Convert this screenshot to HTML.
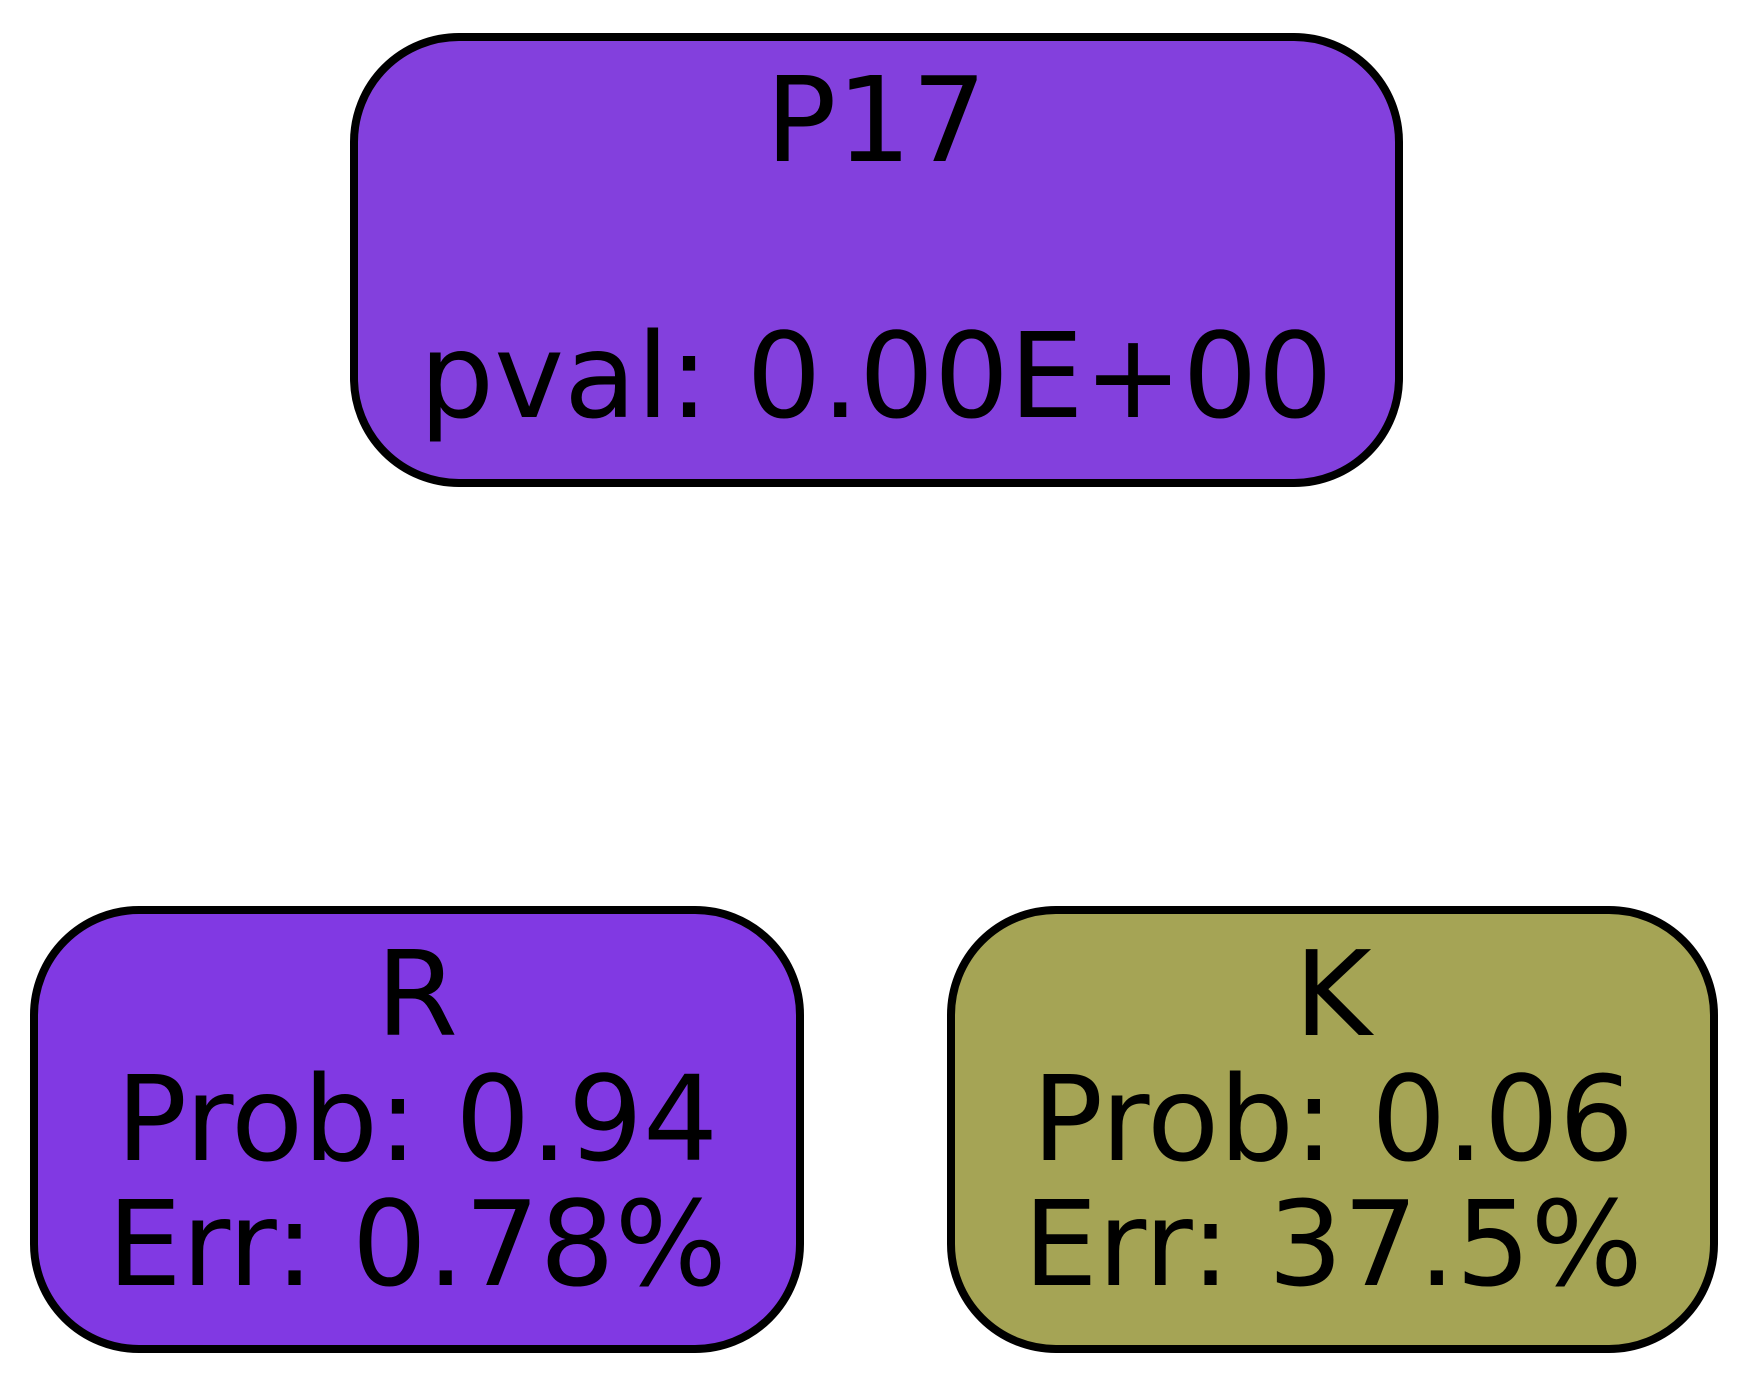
<!DOCTYPE html>
<html><head><meta charset="utf-8"><style>
html,body{margin:0;padding:0;background:#fff;}
svg{display:block;}
text{font-family:"DejaVu Sans","Liberation Sans",sans-serif;font-size:118px;fill:#000;text-anchor:middle;}
</style></head><body>
<svg width="1750" height="1383" viewBox="0 0 1750 1383" xmlns="http://www.w3.org/2000/svg">
<rect x="0" y="0" width="1750" height="1383" fill="#fff"/>
<rect x="354" y="37" width="1045" height="446" rx="105" ry="105" fill="#8340dd" stroke="#000" stroke-width="8"/>
<text x="876" y="161">P17</text>
<text x="876" y="417">pval: 0.00E+00</text>
<rect x="34" y="910" width="766" height="439" rx="105" ry="105" fill="#8139e3" stroke="#000" stroke-width="8"/>
<text x="417" y="1035">R</text>
<text x="417" y="1160">Prob: 0.94</text>
<text x="417" y="1285">Err: 0.78%</text>
<rect x="951" y="910" width="763" height="439" rx="105" ry="105" fill="#a5a455" stroke="#000" stroke-width="8"/>
<text x="1333" y="1035">K</text>
<text x="1333" y="1160">Prob: 0.06</text>
<text x="1333" y="1285">Err: 37.5%</text>
</svg>
</body></html>
